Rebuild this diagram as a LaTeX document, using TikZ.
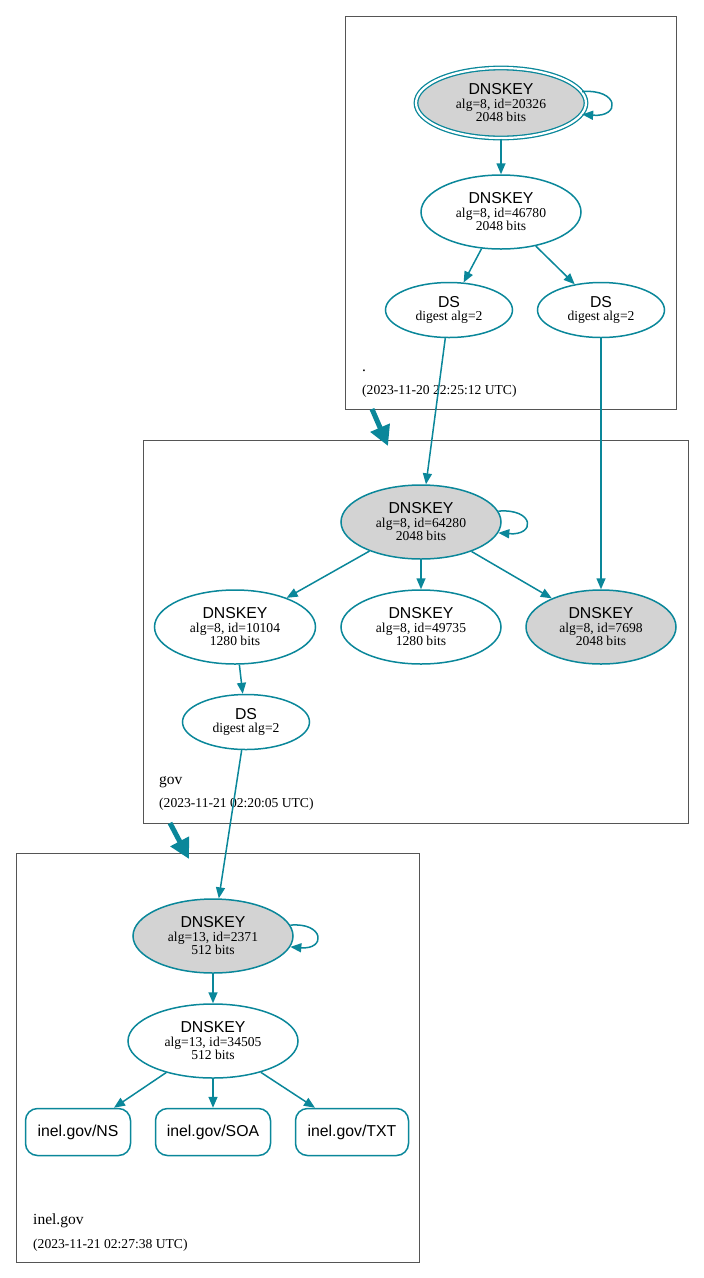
\documentclass[tikz,border=0pt]{standalone}
\usepackage{fontspec}
\setmainfont{Liberation Serif}
\newfontfamily\hv{Liberation Sans}
\usetikzlibrary{shapes.geometric,arrows.meta}
\definecolor{tl}{HTML}{0A879A}
\definecolor{lg}{HTML}{D3D3D3}
\definecolor{cb}{HTML}{555555}
\newcommand{\dnsk}[2]{{\hv\fontsize{15.8}{13.5}\selectfont DNSKEY}\\#1\\#2}
\newcommand{\dsnode}{{\hv\fontsize{15.8}{13.5}\selectfont DS}\\digest alg=2}
\begin{document}
\begin{tikzpicture}[x=1pt,y=-1pt,
  key/.style={ellipse, draw=tl, line width=1.5pt, fill=white, inner sep=0pt, align=center,
    font=\fontsize{13.6}{13.5}\selectfont},
  gk/.style={fill=lg},
  dbl/.style={double=white, double distance=2.2pt, line width=1.3pt},
  dsn/.style={minimum width=127pt, minimum height=55pt},
  rr/.style={rectangle, rounded corners=12pt, draw=tl, line width=1.5pt, fill=white,
    minimum height=47pt, inner sep=0pt, font=\hv\fontsize{15.8}{16}\selectfont},
  arr/.style={draw=tl, line width=1.5pt, -{Triangle[length=11pt,width=9pt]}},
  big/.style={draw=tl, line width=5pt, -{Triangle[length=20pt,width=20pt]}},
  clus/.style={draw=cb, line width=0.8pt, rectangle, inner sep=0pt, anchor=north west},
  zname/.style={anchor=base west, inner sep=0pt, font=\fontsize{15.5}{16}\selectfont},
  zdate/.style={anchor=base west, inner sep=0pt, font=\fontsize{13.6}{14}\selectfont}]
\useasboundingbox (0,0) rectangle (704,1278);
% clusters
\node[clus, minimum width=331pt, minimum height=393pt] (zroot) at (345,16) {};
\node[clus, minimum width=545pt, minimum height=383pt] (zgov) at (143,440) {};
\node[clus, minimum width=403pt, minimum height=409pt] (zinel) at (16,853) {};
\node[zname] (lroot) at (362,371) {.};
\node[zdate] (droot) at (362,394) {(2023-11-20 22:25:12 UTC)};
\node[zname] (lgov) at (159,784) {gov};
\node[zdate] (dgov) at (159,807) {(2023-11-21 02:20:05 UTC)};
\node[zname] (linel) at (33,1224) {inel.gov};
\node[zdate] (dinel) at (33,1248) {(2023-11-21 02:27:38 UTC)};
% root zone
\node[key, gk, dbl, minimum width=170pt, minimum height=70pt] (k20326) at (501,103) {\dnsk{alg=8, id=20326}{2048 bits}};
\node[key, minimum width=160pt, minimum height=74pt] (k46780) at (501,212) {\dnsk{alg=8, id=46780}{2048 bits}};
\node[key, dsn] (dsa) at (449,310) {\dsnode};
\node[key, dsn] (dsb) at (601,310) {\dsnode};
% gov zone
\node[key, gk, minimum width=160pt, minimum height=74pt] (k64280) at (421,522) {\dnsk{alg=8, id=64280}{2048 bits}};
\node[key, minimum width=161pt, minimum height=74pt] (k10104) at (235,627) {\dnsk{alg=8, id=10104}{1280 bits}};
\node[key, minimum width=160pt, minimum height=74pt] (k49735) at (421,627) {\dnsk{alg=8, id=49735}{1280 bits}};
\node[key, gk, minimum width=150pt, minimum height=74pt] (k7698) at (601,627) {\dnsk{alg=8, id=7698}{2048 bits}};
\node[key, dsn] (dsg) at (246,722) {\dsnode};
% inel.gov zone
\node[key, gk, minimum width=160pt, minimum height=74pt] (k2371) at (213,936) {\dnsk{alg=13, id=2371}{512 bits}};
\node[key, minimum width=170pt, minimum height=74pt] (k34505) at (213,1041) {\dnsk{alg=13, id=34505}{512 bits}};
\node[rr, minimum width=105pt] (ns) at (78,1132) {inel.gov/NS};
\node[rr, minimum width=115pt] (soa) at (213,1132) {inel.gov/SOA};
\node[rr, minimum width=113pt] (txt) at (352,1132) {inel.gov/TXT};
% edges
\draw[arr] (k20326.8.5) .. controls +(37,-3) and +(39,3) .. (k20326.-8.5);
\draw[arr] (k20326) -- (k46780);
\draw[arr] (k46780) -- (dsa);
\draw[arr] (k46780) -- (dsb);
\draw[arr] (dsa) -- (k64280);
\draw[arr] (dsb) -- (k7698);
\draw[arr] (k64280.8) .. controls +(36,-3) and +(38,3) .. (k64280.-8);
\draw[arr] (k64280) -- (k10104);
\draw[arr] (k64280) -- (k49735);
\draw[arr] (k64280) -- (k7698);
\draw[arr] (k10104) -- (dsg);
\draw[arr] (dsg) -- (k2371);
\draw[arr] (k2371.8) .. controls +(34,-3) and +(36,3) .. (k2371.-8);
\draw[arr] (k2371) -- (k34505);
\draw[arr] (k34505) -- (ns);
\draw[arr] (k34505) -- (soa);
\draw[arr] (k34505) -- (txt);
% delegation arrows
\coordinate (r1) at (372,409);
\coordinate (r2) at (388,446);
\coordinate (g1) at (170,823);
\coordinate (g2) at (189,859);
\draw[big] (r1) -- (r2);
\draw[big] (g1) -- (g2);
\end{tikzpicture}
\end{document}
